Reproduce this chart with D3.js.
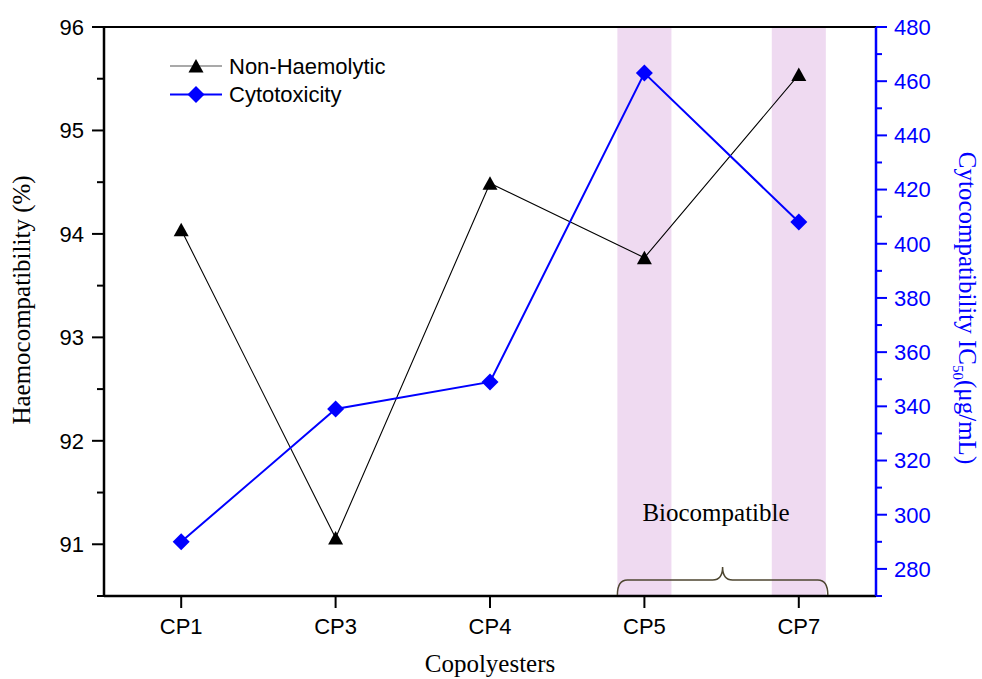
<!DOCTYPE html>
<html><head><meta charset="utf-8">
<script src="https://cdn.jsdelivr.net/npm/d3@7/dist/d3.min.js"></script>
<style>body{margin:0;background:#fff}svg{display:block}</style>
</head><body>
<svg id="chart" width="982" height="679"></svg>
<script>
const categories = ["CP1","CP3","CP4","CP5","CP7"];
const haemo = [94.04, 91.06, 94.49, 93.77, 95.54];
const cyto = [290, 339, 349, 463, 408];
const leftTicks = [91,92,93,94,95,96];
const rightTicks = [280,300,320,340,360,380,400,420,440,460,480];
const highlighted = ["CP5","CP7"];
const seriesNames = ["Non-Haemolytic","Cytotoxicity"];

const svg = d3.select("#chart");
const L=104, R=876, T=27, B=596;
const x = d3.scalePoint().domain(categories).range([L,R]).padding(0.5);
const yL = d3.scaleLinear().domain([90.5,96]).range([B,T]);
const yR = d3.scaleLinear().domain([270,480]).range([B,T]);
const blue = "#0000ff";
const bw = x.step()*0.35;

// highlight bands
svg.selectAll("rect.band").data(highlighted).enter().append("rect")
  .attr("x", d=>x(d)-bw/2).attr("width", bw).attr("y", T).attr("height", B-T)
  .attr("fill","#efdaf1");

// top frame line
svg.append("line").attr("x1",L).attr("x2",R).attr("y1",T).attr("y2",T).attr("stroke","#000").attr("stroke-width",2);

// left axis
const gL = svg.append("g").attr("transform",`translate(${L},0)`);
gL.append("line").attr("y1",T).attr("y2",B).attr("stroke","#000").attr("stroke-width",2.5);
const minorL = d3.range(90.5,96.01,0.5).filter(v=>Math.abs(v-Math.round(v))>0.01);
gL.selectAll("line.mj").data(leftTicks).enter().append("line")
  .attr("x1",-12).attr("x2",0).attr("y1",d=>yL(d)).attr("y2",d=>yL(d)).attr("stroke","#000").attr("stroke-width",2);
gL.selectAll("line.mn").data(minorL).enter().append("line")
  .attr("x1",-7).attr("x2",0).attr("y1",d=>yL(d)).attr("y2",d=>yL(d)).attr("stroke","#000").attr("stroke-width",2);
gL.selectAll("text").data(leftTicks).enter().append("text")
  .attr("x",-20).attr("y",d=>yL(d)).attr("dy","0.36em").attr("text-anchor","end")
  .attr("font-family","Liberation Sans, Arial, sans-serif").attr("font-size",22).text(d=>d);

// bottom axis
const gB = svg.append("g");
gB.append("line").attr("x1",L).attr("x2",R).attr("y1",B).attr("y2",B).attr("stroke","#000").attr("stroke-width",2.5);
gB.selectAll("line.t").data(categories).enter().append("line")
  .attr("x1",d=>x(d)).attr("x2",d=>x(d)).attr("y1",B).attr("y2",B+12).attr("stroke","#000").attr("stroke-width",2);
gB.selectAll("text").data(categories).enter().append("text")
  .attr("x",d=>x(d)).attr("y",634).attr("text-anchor","middle")
  .attr("font-family","Liberation Sans, Arial, sans-serif").attr("font-size",22).text(d=>d);

// right axis
const gR = svg.append("g").attr("transform",`translate(${R},0)`);
gR.append("line").attr("y1",T).attr("y2",B).attr("stroke",blue).attr("stroke-width",2.5);
const minorR = d3.range(270,481,20);
gR.selectAll("line.mj").data(rightTicks).enter().append("line")
  .attr("x1",0).attr("x2",11).attr("y1",d=>yR(d)).attr("y2",d=>yR(d)).attr("stroke",blue).attr("stroke-width",2);
gR.selectAll("line.mn").data(minorR).enter().append("line")
  .attr("x1",0).attr("x2",6).attr("y1",d=>yR(d)).attr("y2",d=>yR(d)).attr("stroke",blue).attr("stroke-width",2);
gR.selectAll("text").data(rightTicks).enter().append("text")
  .attr("x",18).attr("y",d=>yR(d)).attr("dy","0.36em").attr("text-anchor","start").attr("fill",blue)
  .attr("font-family","Liberation Sans, Arial, sans-serif").attr("font-size",22).text(d=>d);

// axis titles
svg.append("text").attr("x",490).attr("y",672).attr("text-anchor","middle")
  .attr("font-family","Liberation Serif, Times New Roman, serif").attr("font-size",25).text("Copolyesters");
svg.append("text").attr("transform","translate(30,300) rotate(-90)").attr("text-anchor","middle")
  .attr("font-family","Liberation Serif, Times New Roman, serif").attr("font-size",25).text("Haemocompatibility (%)");
const rt = svg.append("text").attr("transform","translate(959,308) rotate(90)").attr("text-anchor","middle")
  .attr("font-family","Liberation Serif, Times New Roman, serif").attr("font-size",25).attr("fill",blue);
rt.append("tspan").text("Cytocompatibility IC");
rt.append("tspan").attr("font-size",15).attr("dy",6).text("50");
rt.append("tspan").attr("dy",-6).text("(μg/mL)");

// lines
const lineH = d3.line().x((d,i)=>x(categories[i])).y(d=>yL(d));
const lineC = d3.line().x((d,i)=>x(categories[i])).y(d=>yR(d));
svg.append("path").attr("d",lineH(haemo)).attr("fill","none").attr("stroke","#000").attr("stroke-width",1.1);
svg.append("path").attr("d",lineC(cyto)).attr("fill","none").attr("stroke",blue).attr("stroke-width",2);

const triPath = (cx,cy)=>`M${cx},${cy-7}L${cx+7.5},${cy+6.5}L${cx-7.5},${cy+6.5}Z`;
const diaPath = (cx,cy)=>`M${cx},${cy-8.5}L${cx+8.5},${cy}L${cx},${cy+8.5}L${cx-8.5},${cy}Z`;
svg.selectAll("path.tri").data(haemo).enter().append("path")
  .attr("d",(d,i)=>triPath(x(categories[i]),yL(d))).attr("fill","#000");
svg.selectAll("path.dia").data(cyto).enter().append("path")
  .attr("d",(d,i)=>diaPath(x(categories[i]),yR(d))).attr("fill",blue);

// legend
const lg = svg.append("g");
[[0,"#555",1.2,triPath,"#000"],[1,blue,2,diaPath,blue]].forEach(([i,lc,lw,sym,fc])=>{
  const yy = 66 + i*28.5;
  lg.append("line").attr("x1",170).attr("x2",222).attr("y1",yy).attr("y2",yy).attr("stroke",lc).attr("stroke-width",lw);
  lg.append("path").attr("d",sym(196,yy)).attr("fill",fc);
  lg.append("text").attr("x",229).attr("y",yy).attr("dy","0.36em")
    .attr("font-family","Liberation Sans, Arial, sans-serif").attr("font-size",22).text(seriesNames[i]);
});

// brace + annotation
const bx0 = x("CP5")-bw/2, bx1 = x("CP7")+bw/2+2, bm = (bx0+bx1)/2;
const by = 580;
svg.append("path")
  .attr("d",`M${bx0},${B-1} Q${bx0},${by} ${bx0+10},${by} L${bm-10},${by} Q${bm},${by} ${bm},${by-13} Q${bm},${by} ${bm+10},${by} L${bx1-10},${by} Q${bx1},${by} ${bx1},${B-1}`)
  .attr("fill","none").attr("stroke","#4d4630").attr("stroke-width",1.5);
svg.append("text").attr("x",716).attr("y",521).attr("text-anchor","middle")
  .attr("font-family","Liberation Serif, Times New Roman, serif").attr("font-size",25).text("Biocompatible");
</script>
</body></html>
